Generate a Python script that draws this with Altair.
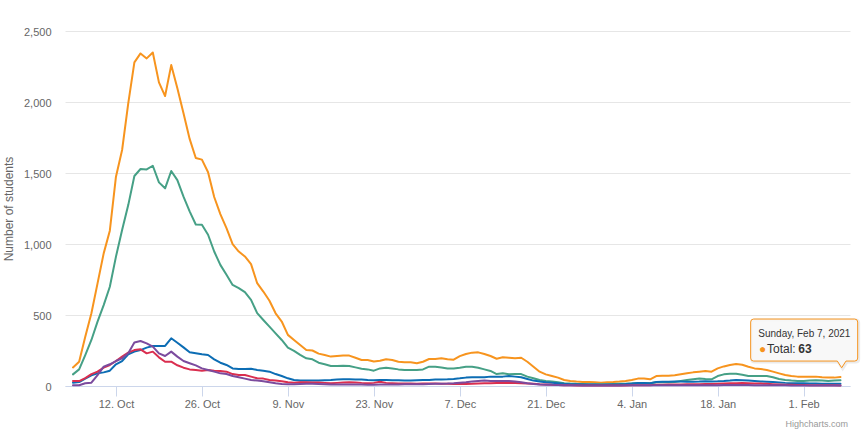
import altair as alt
import pandas as pd

# ---------------- data ----------------
dates = [d.strftime("%Y-%m-%d") for d in pd.date_range("2020-10-05", "2021-02-07", freq="D")]

total = [131, 171, 347, 512, 723, 934, 1094, 1474, 1662, 1990,
         2279, 2342, 2307, 2349, 2138, 2042, 2260, 2096, 1920, 1740,
         1606, 1594, 1505, 1331, 1211, 1112, 999, 947, 912, 858,
         724, 665, 600, 512, 454, 360, 324, 289, 254, 250,
         228, 218, 207, 211, 214, 214, 199, 183, 183, 172,
         178, 188, 183, 171, 167, 167, 160, 171, 190, 190,
         195, 188, 185, 210, 225, 235, 237, 225, 211, 192,
         202, 199, 195, 199, 171, 136, 101, 82, 70, 59,
         42, 35, 31, 28, 28, 26, 23, 26, 28, 31,
         35, 42, 52, 52, 47, 70, 73, 73, 75, 82,
         89, 96, 101, 106, 101, 124, 138, 148, 155, 150,
         136, 124, 120, 113, 101, 89, 77, 70, 66, 66,
         66, 66, 61, 59, 59, 63]

green = [82, 117, 218, 324, 453, 570, 699, 911, 1098, 1274,
         1479, 1528, 1525, 1551, 1434, 1392, 1514, 1450, 1333, 1230,
         1137, 1135, 1065, 947, 853, 783, 712, 689, 661, 607,
         513, 465, 418, 371, 324, 270, 247, 219, 195, 188,
         164, 153, 141, 141, 143, 141, 131, 122, 117, 108,
         124, 129, 124, 117, 113, 113, 113, 117, 136, 136,
         131, 124, 124, 129, 136, 136, 129, 117, 106, 84,
         89, 82, 84, 84, 66, 54, 42, 35, 31, 26,
         20, 17, 15, 14, 13, 12, 12, 13, 14, 15,
         16, 18, 20, 20, 19, 26, 26, 27, 28, 35,
         42, 47, 52, 49, 47, 70, 82, 87, 86, 79,
         70, 70, 70, 70, 61, 49, 42, 38, 35, 35,
         38, 40, 38, 35, 38, 41]

blue = [23, 28, 52, 75, 89, 96, 108, 153, 176, 223,
        242, 253, 270, 282, 282, 282, 336, 305, 272, 237,
        230, 223, 218, 188, 164, 148, 124, 120, 120, 122,
        113, 108, 101, 84, 70, 54, 42, 38, 38, 38,
        38, 40, 42, 45, 47, 47, 45, 45, 42, 40,
        42, 42, 40, 40, 38, 38, 40, 42, 42, 45,
        45, 47, 50, 54, 59, 61, 61, 61, 66, 66,
        66, 70, 66, 61, 49, 38, 31, 26, 23, 19,
        15, 13, 12, 11, 10, 10, 9, 10, 11, 12,
        14, 17, 22, 22, 20, 28, 30, 30, 31, 31,
        30, 30, 31, 33, 32, 33, 35, 38, 42, 40,
        38, 35, 32, 30, 28, 25, 22, 20, 20, 19,
        18, 17, 16, 15, 15, 15]

red = [35, 35, 56, 84, 101, 129, 148, 176, 207, 235,
       253, 258, 230, 242, 202, 171, 171, 146, 129, 117,
       113, 108, 113, 108, 106, 101, 84, 77, 77, 66,
       54, 52, 42, 38, 33, 26, 23, 26, 26, 25,
       24, 22, 20, 22, 24, 26, 25, 22, 20, 22,
       30, 22, 20, 18, 17, 17, 16, 17, 18, 18,
       16, 15, 14, 14, 14, 15, 17, 19, 20, 21,
       22, 22, 21, 20, 18, 15, 12, 10, 8, 7,
       5, 5, 4, 4, 4, 3, 3, 3, 3, 4,
       4, 5, 6, 6, 6, 8, 9, 10, 10, 11,
       12, 13, 13, 14, 14, 16, 18, 19, 20, 21,
       20, 18, 17, 15, 13, 11, 9, 8, 7, 7,
       6, 6, 6, 5, 5, 4]

purple = [5, 5, 19, 23, 77, 136, 153, 176, 195, 230,
          307, 317, 300, 277, 230, 211, 242, 207, 176, 160,
          145, 124, 113, 101, 89, 84, 70, 61, 52, 42,
          38, 33, 26, 19, 14, 12, 12, 14, 16, 16,
          14, 12, 10, 10, 10, 10, 10, 10, 9, 9,
          10, 10, 10, 11, 12, 12, 12, 13, 14, 15,
          16, 17, 19, 23, 26, 31, 35, 38, 35, 35,
          35, 35, 31, 26, 19, 14, 11, 9, 8, 7,
          6, 5, 5, 4, 4, 4, 4, 4, 4, 4,
          5, 5, 5, 5, 5, 6, 6, 6, 6, 6,
          6, 6, 6, 6, 6, 6, 7, 7, 7, 7,
          7, 6, 6, 6, 5, 5, 5, 4, 4, 4,
          4, 4, 3, 3, 3, 3]

series_names = ["Total", "Group 1", "Group 2", "Group 3", "Group 4"]
series_values = [total, green, blue, red, purple]
series_colors = ["#F7941E", "#46A086", "#0C6DB4", "#DA2E4F", "#7B4B9E"]

x_tick_dates = [(2020, 10, 12), (2020, 10, 26), (2020, 11, 9), (2020, 11, 23),
                (2020, 12, 7), (2020, 12, 21), (2021, 1, 4), (2021, 1, 18), (2021, 2, 1)]
y_ticks = [0, 500, 1000, 1500, 2000, 2500]

tooltip_date = "2021-02-07"
tooltip_header = "Sunday, Feb 7, 2021"
tooltip_name = "Total"
tooltip_value = 63

# ---------------- styling ----------------
FONT = "Liberation Sans"
W, H = 785, 355

xscale = alt.Scale(
    type="utc",
    domain=[alt.DateTime(year=2020, month=10, date=3, hours=16, minutes=48, utc=True),
            alt.DateTime(year=2021, month=2, date=8, hours=13, minutes=12, utc=True)],
)
yscale = alt.Scale(domain=[0, 2500], nice=False)

xaxis = alt.Axis(
    values=[alt.DateTime(year=y, month=m, date=d, utc=True) for y, m, d in x_tick_dates],
    labelExpr="utcFormat(datum.value, '%-d. %b')",
    labelFont=FONT, labelFontSize=11, labelColor="#666666",
    domainColor="#ccd6eb", tickColor="#ccd6eb", tickSize=10, labelPadding=2,
    grid=False, labelFlush=False, labelOverlap=False, title=None,
)
yaxis = alt.Axis(
    values=y_ticks, labelExpr="format(datum.value, ',')", grid=True, gridColor="#e6e6e6",
    domain=False, ticks=False,
    labelPadding=14, labelFont=FONT, labelFontSize=11, labelColor="#666666",
    labelBaseline="middle", labelOffset=1,
    title="Number of students", titleFont=FONT, titleFontSize=12, titleColor="#666666",
    titleFontWeight="normal", titleX=-57, titleY=H / 2, titleAngle=270,
    titleAlign="center", titleBaseline="middle",
)

layers = []
for i, (name, vals, color) in enumerate(zip(series_names, series_values, series_colors)):
    df = pd.DataFrame({"date": dates, "students": vals, "series": name})
    layers.append(
        alt.Chart(df).mark_line(color=color, strokeWidth=2, strokeJoin="round", strokeCap="round").encode(
            x=alt.X("date:T", scale=xscale, axis=xaxis),
            y=alt.Y("students:Q", scale=yscale, axis=yaxis),
        )
    )

# ---------------- tooltip callout (anchored to the Feb 7 total point) ----------------
tip_df = pd.DataFrame({"date": [tooltip_date], "students": [tooltip_value]})
L, R, T, B, r = -89.8, 17.2, -58, -16, 3
tipx, tipy, bl, br = 1.2, -9.3, -3.2, 5.5


def callout(dx=0.0, dy=0.0):
    p = lambda x, y: f"{x + dx:.1f} {y + dy:.1f}"
    return (f"M {p(L + r, T)} L {p(R - r, T)} Q {p(R, T)} {p(R, T + r)} "
            f"L {p(R, B - r)} Q {p(R, B)} {p(R - r, B)} L {p(br, B)} L {p(tipx, tipy)} "
            f"L {p(bl, B)} L {p(L + r, B)} Q {p(L, B)} {p(L, B - r)} "
            f"L {p(L, T + r)} Q {p(L, T)} {p(L + r, T)} Z")


base_tip = alt.Chart(tip_df).encode(
    x=alt.X("date:T", scale=xscale, axis=xaxis),
    y=alt.Y("students:Q", scale=yscale, axis=yaxis),
)
shadow = base_tip.mark_point(shape=callout(1, 1), size=4, filled=False, stroke="#000000",
                             strokeOpacity=0.08, strokeWidth=3, opacity=1)
box = base_tip.mark_point(shape=callout(), size=4, filled=True, fill="#f7f7f7", fillOpacity=0.9,
                          stroke="#F7941E", strokeWidth=1, opacity=1)
hdr = base_tip.mark_text(text=tooltip_header, align="left", baseline="middle", dx=-82.2, dy=-42.7,
                         font=FONT, fontSize=10, color="#333333")
dot = base_tip.mark_text(text="\u25CF", align="left", baseline="middle", dx=-81.5, dy=-27.7,
                         font=FONT, fontSize=12, color="#F7941E")
lbl = base_tip.mark_text(text=f"{tooltip_name}: ", align="left", baseline="middle", dx=-73.5, dy=-27.7,
                         font=FONT, fontSize=12, color="#333333")
val = base_tip.mark_text(text=str(tooltip_value), align="left", baseline="middle", dx=-42.2, dy=-27.7,
                         font=FONT, fontSize=12, fontWeight="bold", color="#333333")

credits = alt.Chart(tip_df).mark_text(
    text="Highcharts.com", align="right", baseline="middle", font=FONT, fontSize=9, color="#999999"
).encode(x=alt.value(783), y=alt.value(393))

chart = alt.layer(*layers, shadow, box, hdr, dot, lbl, val, credits).properties(
    width=W, height=H,
    padding={"left": 65, "top": 31, "right": 18, "bottom": 50},
    autosize=alt.AutoSizeParams(type="none"),
    background="white",
).configure(font=FONT).configure_view(stroke=None)

chart.save("out.html", embed_options={"renderer": "svg", "actions": False})
